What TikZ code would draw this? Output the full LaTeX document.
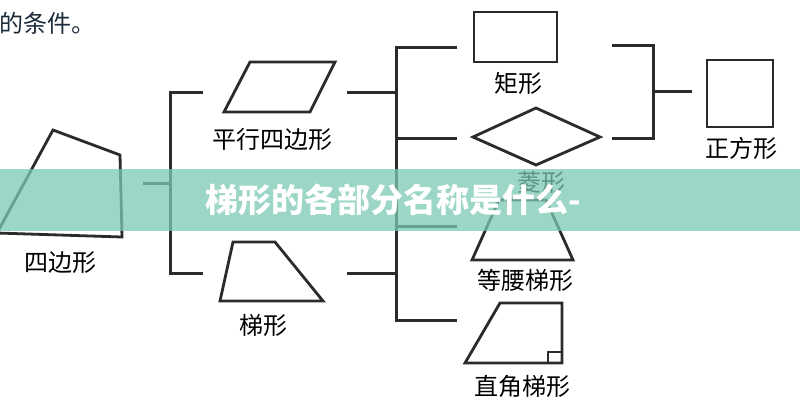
\documentclass[tikz,border=0pt]{standalone}
\usepackage{fontspec}
\newfontfamily\cjk{Noto Sans CJK SC}
\definecolor{lineC}{HTML}{2B2B2B}
\definecolor{bannerC}{RGB}{124,201,179}
\definecolor{navyC}{HTML}{1C2B3C}
\begin{document}
\begin{tikzpicture}[x=1pt,y=-1pt,
  shp/.style={draw=lineC, line width=2.8pt, line join=miter},
  conn/.style={draw=lineC, line width=3pt},
  lab/.style={font=\cjk\fontsize{24}{24}\selectfont, inner sep=0pt, text=black},
  banner/.style={fill=bannerC, opacity=0.75},
  btext/.style={font=\cjk\bfseries\fontsize{33}{33}\selectfont, text=white, inner sep=0pt, anchor=west}]
\useasboundingbox (0,0) rectangle (800,400);
\fill[white] (0,0) rectangle (800,400);

% top-left text
\node[lab, text=navyC, anchor=west] (top) at (-1,23) {的条件。};

% quadrilateral
\draw[shp] (53,130) -- (120,155) -- (122,237) -- (-3,233) -- cycle;
\node[lab] (lquad) at (60,263) {四边形};

% parallelogram
\draw[shp] (250,62) -- (335,62) -- (310,112) -- (224,112) -- cycle;
\node[lab] (lpar) at (272,139) {平行四边形};

% trapezoid
\draw[shp] (233,242) -- (275,242) -- (323,301) -- (220,301) -- cycle;
\node[lab] (ltrap) at (263,325) {梯形};

% rectangle
\draw[shp] (474,12) rectangle (557,62);
\node[lab] (lrect) at (518,83) {矩形};

% rhombus
\draw[shp] (473,137) -- (536,108) -- (600,137) -- (536,165) -- cycle;
\node[lab] (lrhom) at (541,182) {菱形};

% isosceles trapezoid
\draw[shp] (499,200) -- (546,200) -- (573,260) -- (472,260) -- cycle;
\node[lab] (liso) at (525,280) {等腰梯形};

% right trapezoid
\draw[shp] (500,303) -- (562,303) -- (562,363) -- (465,363) -- cycle;
\draw[line width=1.8pt, draw=lineC] (548,363) -- (548,352) -- (562,352);
\node[lab] (lrt) at (522,386) {直角梯形};

% square
\draw[shp] (707,60) rectangle (773,127);
\node[lab] (lsq) at (741,148) {正方形};

% connectors: left bracket
\coordinate (q0) at (143,183);
\coordinate (q1) at (170,183);
\coordinate (lb1) at (170,92);
\coordinate (lb2) at (170,273);
\coordinate (lp) at (203,92);
\coordinate (lt) at (203,273);
\draw[conn] (q0) -- (q1);
\draw[conn] (lp) -- (lb1) -- (lb2) -- (lt);

% middle bracket
\coordinate (p0) at (347,92);
\coordinate (p1) at (396,92);
\coordinate (t0) at (347,273);
\coordinate (t1) at (396,273);
\coordinate (mb1) at (396,47);
\coordinate (mb2) at (396,138);
\coordinate (mb3) at (396,226);
\coordinate (mb4) at (396,320);
\coordinate (r1) at (457,47);
\coordinate (r2) at (457,138);
\coordinate (r3) at (457,226);
\coordinate (r4) at (457,320);
\draw[conn] (p0) -- (p1);
\draw[conn] (t0) -- (t1);
\draw[conn] (r1) -- (mb1) -- (mb4) -- (r4);
\draw[conn] (mb2) -- (r2);
\draw[conn] (mb3) -- (r3);

% right bracket
\coordinate (s1) at (612,45);
\coordinate (s2) at (653,45);
\coordinate (s3) at (653,138);
\coordinate (s4) at (612,138);
\coordinate (s5) at (653,91);
\coordinate (s6) at (692,91);
\draw[conn] (s1) -- (s2) -- (s3) -- (s4);
\draw[conn] (s5) -- (s6);

% banner
\fill[banner] (0,169) rectangle (800,231);
\node[btext] (title) at (205,200) {梯形的各部分名称是什么-};
\end{tikzpicture}
\end{document}
